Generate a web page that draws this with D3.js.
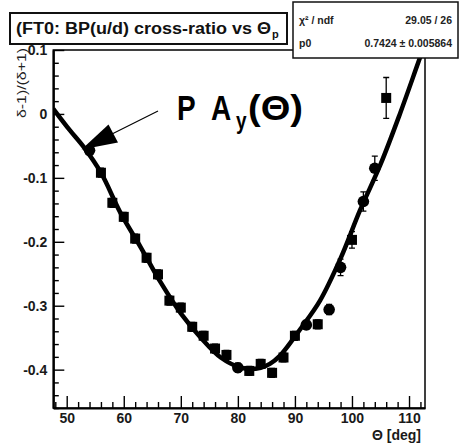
<!DOCTYPE html>
<html>
<head>
<meta charset="utf-8">
<script src="https://cdn.jsdelivr.net/npm/d3@7"></script>
<style>
  body { margin: 0; background: #fff; }
  text { font-family: "Liberation Sans", Arial, Helvetica, sans-serif; }
</style>
</head>
<body>
<svg id="chart" width="461" height="445"></svg>
<script>
// Measured cross-ratio points (theta in degrees)
const theta = [54, 56, 58, 60, 62, 64, 66, 68, 70, 72, 74, 76, 78, 80, 82, 84, 86, 88, 90, 92, 94, 96, 98, 100, 102, 104, 106];
const ratio = [-0.057, -0.092, -0.139, -0.161, -0.195, -0.225, -0.251, -0.292, -0.303, -0.333, -0.347, -0.367, -0.377,
               -0.397, -0.402, -0.391, -0.405, -0.381, -0.347, -0.330, -0.329, -0.306, -0.240, -0.197, -0.137, -0.085, 0.025];
const ratioErr = [0.007, 0.007, 0.007, 0.007, 0.007, 0.007, 0.007, 0.007, 0.007, 0.007, 0.007, 0.007, 0.007,
                  0.007, 0.007, 0.007, 0.007, 0.007, 0.007, 0.007, 0.007, 0.008, 0.013, 0.013, 0.015, 0.019, 0.032];
const markerShape = ["c", "s", "s", "s", "s", "s", "s", "s", "s", "s", "s", "s", "s",
                     "c", "s", "s", "s", "s", "s", "c", "s", "c", "c", "s", "c", "c", "s"];

// Fitted curve P*A_y(theta)
const fitTheta = [47.65, 50.5, 53, 56, 59.5, 63, 66.5, 70, 73.5, 77, 80.5, 82.1, 84, 85.6, 87.4, 89.7, 91, 94.4, 98, 101.4, 105, 108.4, 111.6, 113];
const fitValue = [0.008, -0.025, -0.052, -0.092, -0.156, -0.209, -0.264, -0.312, -0.350, -0.381, -0.397, -0.399, -0.397,
                  -0.391, -0.378, -0.352, -0.336, -0.292, -0.226, -0.151, -0.079, 0.000, 0.080, 0.115];

const xTicks = [50, 60, 70, 80, 90, 100, 110];
const yTicks = [-0.4, -0.3, -0.2, -0.1, 0, 0.1];
const titleText = "(FT0: BP(u/d) cross-ratio vs Θ";
const statNames = ["χ² / ndf", "p0"];
const statValues = ["29.05 / 26", "0.7424 ± 0.005864"];

const svg = d3.select("#chart");
const L = 53.3, R = 425, T = 50, B = 408;

const x = d3.scaleLinear().domain([47.65, 112.8]).range([L, R]);
const y = d3.scaleLinear().domain([-0.46, 0.1]).range([B, T]);

svg.append("rect").attr("width", 461).attr("height", 445).attr("fill", "#fff");

svg.append("clipPath").attr("id", "plotclip")
  .append("rect").attr("x", L).attr("y", T).attr("width", R - L).attr("height", B - T);

// frame
svg.append("rect").attr("x", L).attr("y", T).attr("width", R - L).attr("height", B - T)
  .attr("fill", "none").attr("stroke", "#000").attr("stroke-width", 1.5);

// x axis: major + minor ticks pointing inward
const xMinor = d3.range(48, 113, 2).filter(v => v % 10 !== 0);
svg.append("g").attr("transform", `translate(0,${B})`)
  .call(d3.axisBottom(x).tickValues(xMinor).tickSizeInner(-6).tickSizeOuter(0).tickFormat(""))
  .call(g => g.select(".domain").remove())
  .call(g => g.selectAll("line").attr("stroke", "#000").attr("stroke-width", 1.4));
const gx = svg.append("g").attr("transform", `translate(0,${B})`)
  .call(d3.axisBottom(x).tickValues(xTicks).tickSizeInner(-12).tickSizeOuter(0).tickPadding(5).tickFormat(d3.format("d")));
gx.select(".domain").attr("stroke", "#000").attr("stroke-width", 2.2);
gx.selectAll("line").attr("stroke", "#000").attr("stroke-width", 1.4);
gx.selectAll("text").attr("font-size", 14).attr("font-weight", "bold").attr("fill", "#1a1a1a");

// y axis
const yMinor = d3.range(-46, 11, 2).map(v => v / 100).filter(v => Math.abs(Math.round(v * 100)) % 10 !== 0);
svg.append("g").attr("transform", `translate(${L},0)`)
  .call(d3.axisLeft(y).tickValues(yMinor).tickSizeInner(-5.5).tickSizeOuter(0).tickFormat(""))
  .call(g => g.select(".domain").remove())
  .call(g => g.selectAll("line").attr("stroke", "#000").attr("stroke-width", 1.4));
const gy = svg.append("g").attr("transform", `translate(${L},0)`)
  .call(d3.axisLeft(y).tickValues(yTicks).tickSizeInner(-11).tickSizeOuter(0).tickPadding(6)
    .tickFormat(v => v === 0 ? "0" : String(+v.toFixed(1))));
gy.select(".domain").attr("stroke", "#000").attr("stroke-width", 2.2);
gy.selectAll("line").attr("stroke", "#000").attr("stroke-width", 1.4);
gy.selectAll("text").attr("font-size", 14).attr("font-weight", "bold").attr("fill", "#1a1a1a");

// axis titles
svg.append("text").attr("transform", `translate(26,48) rotate(-90)`)
  .attr("text-anchor", "end").attr("font-size", 12).attr("fill", "#222")
  .attr("textLength", 70).attr("lengthAdjust", "spacingAndGlyphs")
  .text("δ-1)/(δ+1)");
svg.append("text").attr("x", 421).attr("y", 440).attr("text-anchor", "end")
  .attr("font-size", 14).attr("font-weight", "bold").attr("fill", "#1a1a1a")
  .text("Θ [deg]");

// fit curve
const plot = svg.append("g").attr("clip-path", "url(#plotclip)");
plot.append("path")
  .datum(fitTheta.map((t, i) => [t, fitValue[i]]))
  .attr("fill", "none").attr("stroke", "#000").attr("stroke-width", 4.5)
  .attr("d", d3.line().x(d => x(d[0])).y(d => y(d[1])).curve(d3.curveCatmullRom));

// data points with error bars
const pts = theta.map((t, i) => ({ t, v: ratio[i], e: ratioErr[i], s: markerShape[i] }));
const pg = plot.append("g").selectAll("g").data(pts).join("g");
pg.append("line")
  .attr("x1", d => x(d.t)).attr("x2", d => x(d.t))
  .attr("y1", d => y(d.v + d.e)).attr("y2", d => y(d.v - d.e))
  .attr("stroke", "#000").attr("stroke-width", 1.3);
pg.selectAll(".cap").data(d => [[d.t, d.v + d.e], [d.t, d.v - d.e]]).join("line")
  .attr("x1", d => x(d[0]) - 3).attr("x2", d => x(d[0]) + 3)
  .attr("y1", d => y(d[1])).attr("y2", d => y(d[1]))
  .attr("stroke", "#000").attr("stroke-width", 1.3);
pg.filter(d => d.s === "s").append("rect")
  .attr("x", d => x(d.t) - 5).attr("y", d => y(d.v) - 5)
  .attr("width", 10).attr("height", 10).attr("fill", "#000");
pg.filter(d => d.s === "c").append("circle")
  .attr("cx", d => x(d.t)).attr("cy", d => y(d.v)).attr("r", 5.8).attr("fill", "#000");

// annotation with arrow
svg.append("line").attr("x1", 158).attr("y1", 111).attr("x2", 112).attr("y2", 134)
  .attr("stroke", "#000").attr("stroke-width", 1.2);
svg.append("path").attr("d", "M81.5,149.5 L108.5,124.5 L118,142.5 Z").attr("fill", "#000");

const ann = svg.append("g").attr("transform", "translate(0,120) scale(1,1.25)");
ann.append("text").attr("x", 177).attr("y", 0).attr("font-size", 28).attr("font-weight", "bold").text("P");
ann.append("text").attr("x", 211).attr("y", 0).attr("font-size", 28).attr("font-weight", "bold").text("A");
ann.append("text").attr("x", 236).attr("y", 7.5).attr("font-size", 19).attr("font-weight", "bold").text("y");
ann.append("text").attr("x", 248).attr("y", 0).attr("font-size", 28).attr("font-weight", "bold")
  .attr("textLength", 55).attr("lengthAdjust", "spacingAndGlyphs").text("(Θ)");

// title box
svg.append("rect").attr("x", 10).attr("y", 13).attr("width", 277).attr("height", 31)
  .attr("fill", "#fff").attr("stroke", "#111").attr("stroke-width", 2);
svg.append("text").attr("x", 16).attr("y", 34).attr("font-size", 16).attr("font-weight", "bold").attr("fill", "#111")
  .attr("textLength", 255).attr("lengthAdjust", "spacingAndGlyphs").text(titleText);
svg.append("text").attr("x", 272).attr("y", 38).attr("font-size", 11).attr("font-weight", "bold").attr("fill", "#111").text("p");

// statistics box
svg.append("rect").attr("x", 293).attr("y", 2).attr("width", 165).attr("height", 56)
  .attr("fill", "#fff").attr("stroke", "#111").attr("stroke-width", 1.5);
statNames.forEach((n, i) => {
  svg.append("text").attr("x", 299).attr("y", 24 + i * 23).attr("font-size", 10.5).attr("font-weight", "bold")
    .attr("fill", "#222").text(n);
  svg.append("text").attr("x", 452).attr("y", 24 + i * 23).attr("text-anchor", "end").attr("font-size", 10.5)
    .attr("font-weight", "bold").attr("fill", "#222").text(statValues[i]);
});
</script>
</body>
</html>
